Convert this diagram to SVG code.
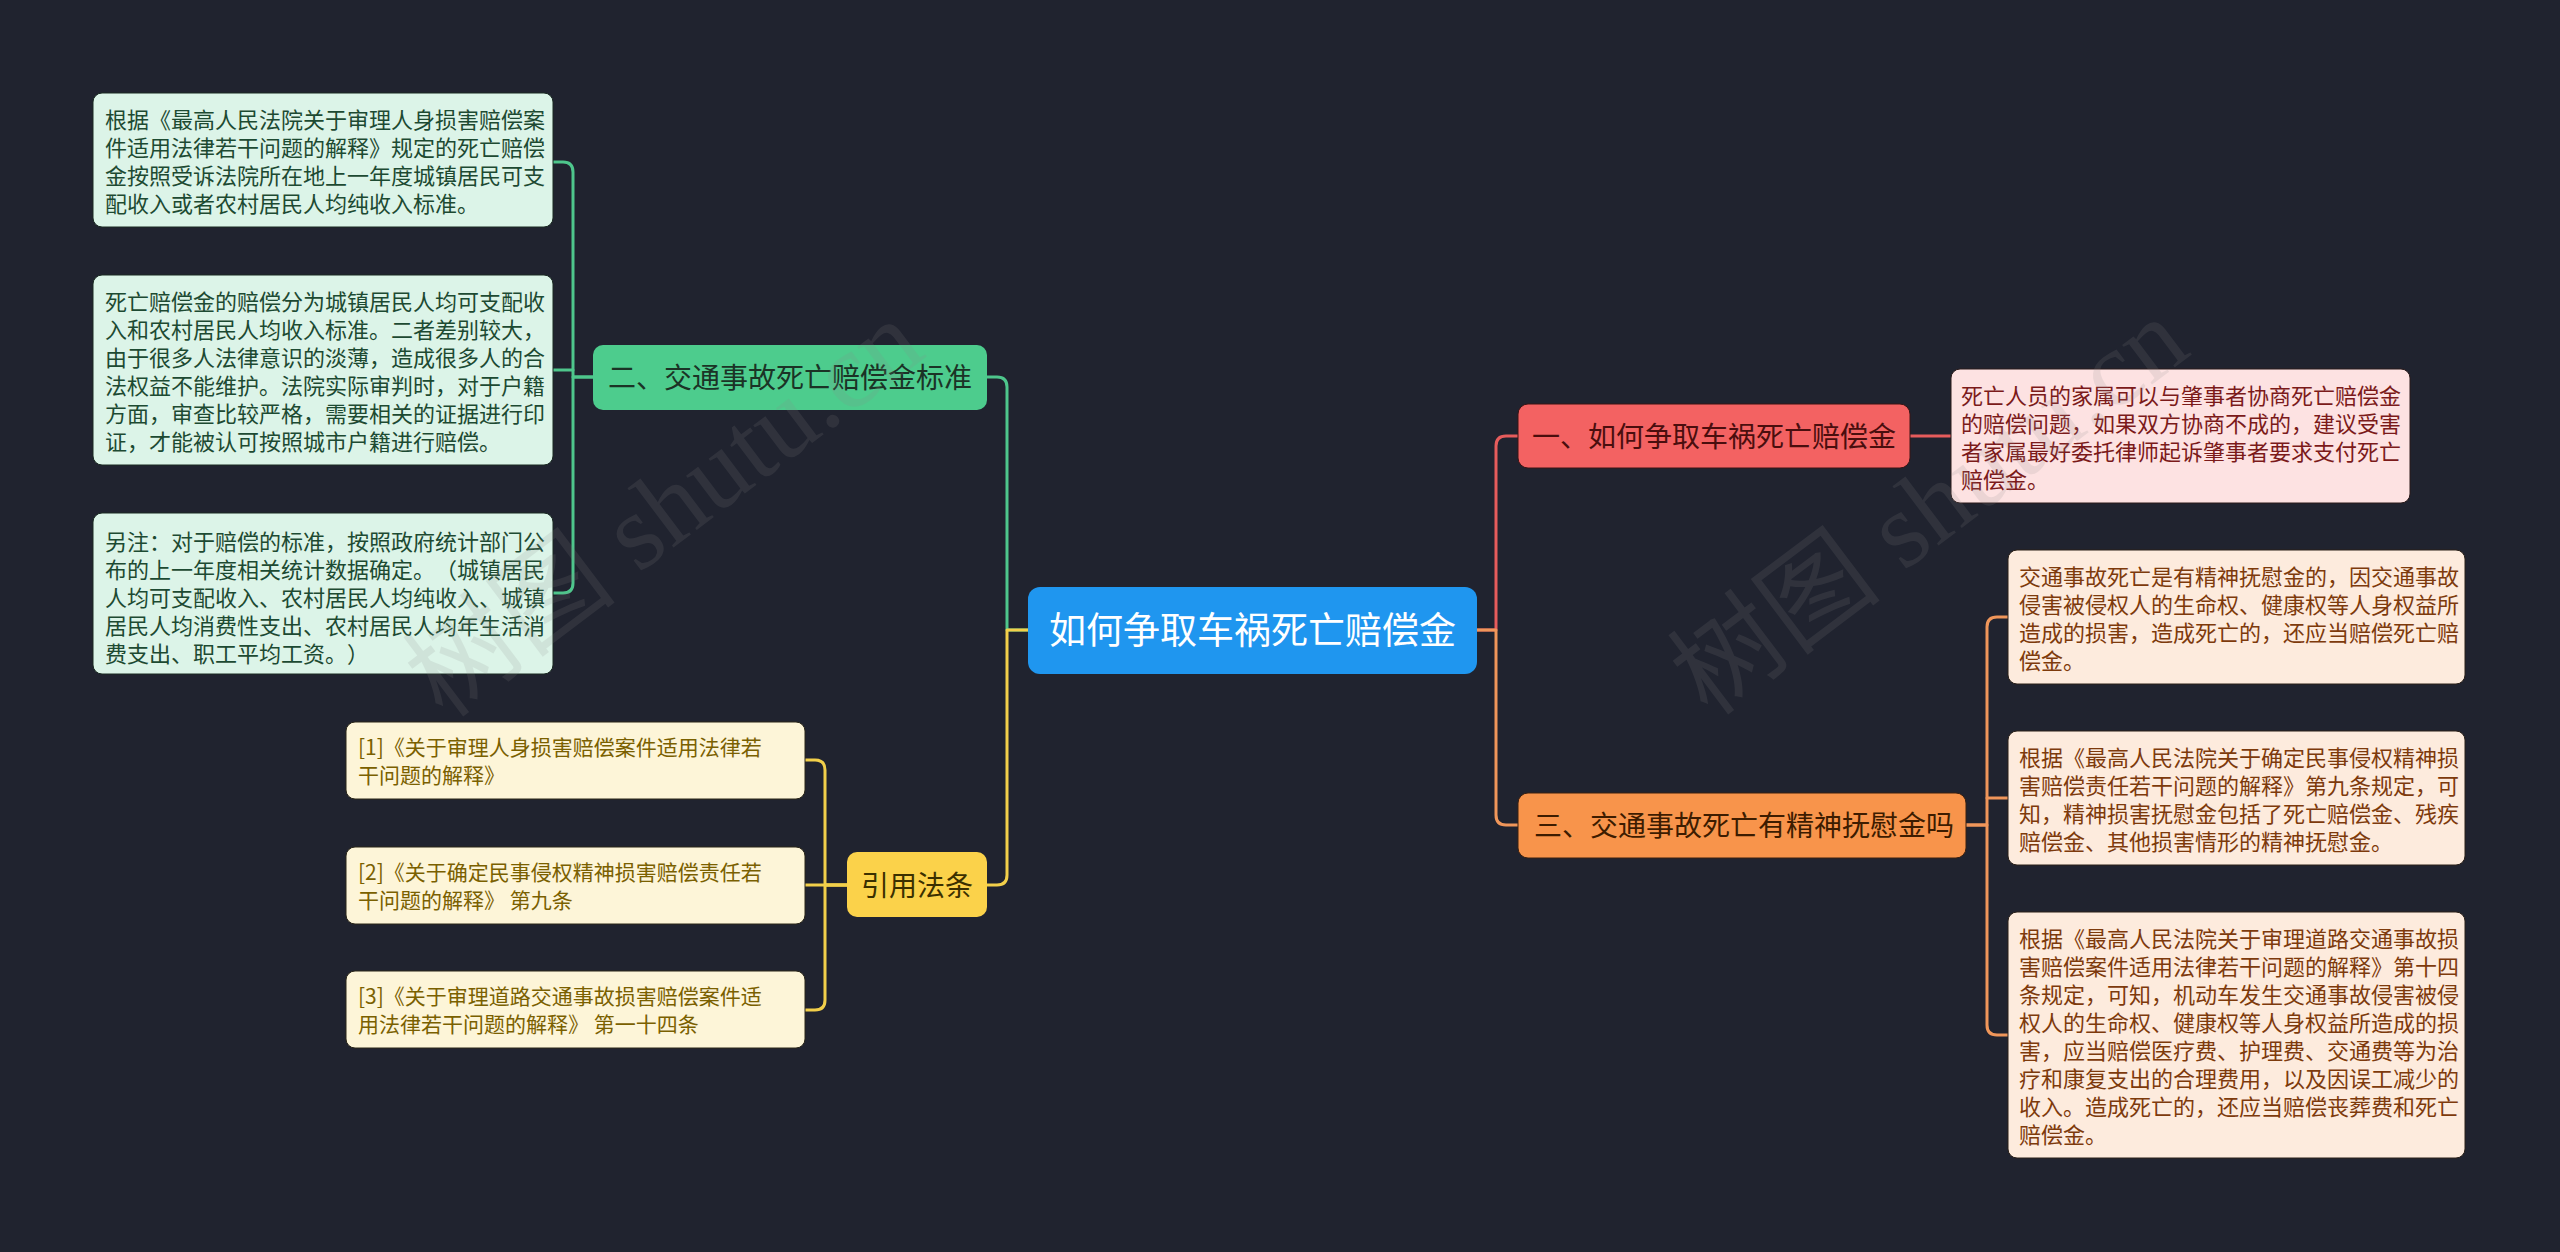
<svg xmlns="http://www.w3.org/2000/svg" width="2560" height="1252" viewBox="0 0 2560 1252">
<style>
text{font-family:"Noto Sans CJK SC","Noto Sans",sans-serif;text-spacing-trim:space-all;}
.leaf{font-size:22px;}
.cite{font-size:21px;fill:#7a6000;}
.gl{fill:#dcf4e8;stroke:#1a2a22;stroke-width:1;}
.gt{fill:#1d4a32;}
.yl{fill:#fdf5d8;stroke:#2a2618;stroke-width:1;}
.rl{fill:#fde2e2;stroke:#2a1a1a;stroke-width:1;}
.rt{fill:#7b1a1a;}
.ol{fill:#fdebdd;stroke:#2a2018;stroke-width:1;}
.ot{fill:#7d3a0c;}
.main{font-size:28px;}
.c{fill:none;stroke-width:3;stroke-linecap:round;stroke-linejoin:round;}
.wm{font-family:"Liberation Serif","Noto Sans CJK SC",serif;font-size:108px;fill:#8a8a8a;opacity:0.15;}
</style>
<rect x="0" y="0" width="2560" height="1252" fill="#20232f"/>

<g id="connectors">
  <path class="c" stroke="#4ec68c" d="M1028,630 H1007 V387 Q1007,377 997,377 H987"/>
  <path class="c" stroke="#f2cf4a" d="M1028,630 H1007 V875 Q1007,885 997,885 H987"/>
  <path class="c" stroke="#4ec68c" d="M593,377 H573 V172 Q573,162 563,162 H553"/>
  <path class="c" stroke="#4ec68c" d="M573,370 H553"/>
  <path class="c" stroke="#4ec68c" d="M593,377 H573 V583 Q573,593 563,593 H553"/>
  <path class="c" stroke="#f2cf4a" d="M847,885 H825 V770 Q825,760 815,760 H805"/>
  <path class="c" stroke="#f2cf4a" d="M847,885 H805"/>
  <path class="c" stroke="#f2cf4a" d="M847,885 H825 V1000 Q825,1010 815,1010 H805"/>
  <path class="c" stroke="#e65c5c" d="M1477,630 H1496 V446 Q1496,436 1506,436 H1518"/>
  <path class="c" stroke="#e65c5c" d="M1910,436 H1951"/>
  <path class="c" stroke="#f0965a" d="M1477,630 H1496 V815 Q1496,825 1506,825 H1518"/>
  <path class="c" stroke="#f0965a" d="M1966,825 H1987 V627 Q1987,617 1997,617 H2008"/>
  <path class="c" stroke="#f0965a" d="M1987,798 H2008"/>
  <path class="c" stroke="#f0965a" d="M1966,825 H1987 V1025 Q1987,1035 1997,1035 H2008"/>
</g>

<g id="root">
  <rect x="1028" y="587" width="449" height="87" rx="12" fill="#1f96ef"/>
  <text x="1252.5" y="644" font-size="37" fill="#ffffff" text-anchor="middle">如何争取车祸死亡赔偿金</text>
</g>

<g id="n2">
  <rect x="593" y="345" width="394" height="65" rx="10" fill="#4dcc8d"/>
  <text class="main" x="608" y="388" fill="#1b3326">二、交通事故死亡赔偿金标准</text>
</g>
<g id="n2a">
  <rect class="gl" x="93" y="93" width="460" height="134" rx="9"/>
  <text class="leaf gt" x="105"><tspan x="105" y="128">根据《最高人民法院关于审理人身损害赔偿案</tspan><tspan x="105" y="156">件适用法律若干问题的解释》规定的死亡赔偿</tspan><tspan x="105" y="184">金按照受诉法院所在地上一年度城镇居民可支</tspan><tspan x="105" y="212">配收入或者农村居民人均纯收入标准。</tspan></text>
</g>
<g id="n2b">
  <rect class="gl" x="93" y="275" width="460" height="190" rx="9"/>
  <text class="leaf gt" x="105"><tspan x="105" y="310">死亡赔偿金的赔偿分为城镇居民人均可支配收</tspan><tspan x="105" y="338">入和农村居民人均收入标准。二者差别较大，</tspan><tspan x="105" y="366">由于很多人法律意识的淡薄，造成很多人的合</tspan><tspan x="105" y="394">法权益不能维护。法院实际审判时，对于户籍</tspan><tspan x="105" y="422">方面，审查比较严格，需要相关的证据进行印</tspan><tspan x="105" y="450">证，才能被认可按照城市户籍进行赔偿。</tspan></text>
</g>
<g id="n2c">
  <rect class="gl" x="93" y="513" width="460" height="161" rx="9"/>
  <text class="leaf gt" x="105"><tspan x="105" y="550">另注：对于赔偿的标准，按照政府统计部门公</tspan><tspan x="105" y="578">布的上一年度相关统计数据确定。（城镇居民</tspan><tspan x="105" y="606">人均可支配收入、农村居民人均纯收入、城镇</tspan><tspan x="105" y="634">居民人均消费性支出、农村居民人均年生活消</tspan><tspan x="105" y="662">费支出、职工平均工资。）</tspan></text>
</g>

<g id="n4">
  <rect x="847" y="852" width="140" height="65" rx="10" fill="#fbd24a"/>
  <text class="main" x="917" y="896" fill="#3b3000" text-anchor="middle">引用法条</text>
</g>
<g id="n4a">
  <rect class="yl" x="346" y="722" width="459" height="77" rx="9"/>
  <text class="cite" x="358"><tspan x="358" y="755">[1]《关于审理人身损害赔偿案件适用法律若</tspan><tspan x="358" y="783">干问题的解释》</tspan></text>
</g>
<g id="n4b">
  <rect class="yl" x="346" y="847" width="459" height="77" rx="9"/>
  <text class="cite" x="358"><tspan x="358" y="880">[2]《关于确定民事侵权精神损害赔偿责任若</tspan><tspan x="358" y="908">干问题的解释》 第九条</tspan></text>
</g>
<g id="n4c">
  <rect class="yl" x="346" y="971" width="459" height="77" rx="9"/>
  <text class="cite" x="358"><tspan x="358" y="1004">[3]《关于审理道路交通事故损害赔偿案件适</tspan><tspan x="358" y="1032">用法律若干问题的解释》 第一十四条</tspan></text>
</g>

<g id="n1">
  <rect x="1518" y="404" width="392" height="64" rx="10" fill="#f36262" stroke="#3a1414" stroke-width="1"/>
  <text class="main" x="1532" y="447" fill="#4a0e0e">一、如何争取车祸死亡赔偿金</text>
</g>
<g id="n1a">
  <rect class="rl" x="1951" y="369" width="459" height="134" rx="9"/>
  <text class="leaf rt" x="1961"><tspan x="1961" y="404">死亡人员的家属可以与肇事者协商死亡赔偿金</tspan><tspan x="1961" y="432">的赔偿问题，如果双方协商不成的，建议受害</tspan><tspan x="1961" y="460">者家属最好委托律师起诉肇事者要求支付死亡</tspan><tspan x="1961" y="488">赔偿金。</tspan></text>
</g>

<g id="n3">
  <rect x="1518" y="793" width="448" height="65" rx="10" fill="#f8944b" stroke="#3a2010" stroke-width="1"/>
  <text class="main" x="1534" y="836" fill="#3d1c00">三、交通事故死亡有精神抚慰金吗</text>
</g>
<g id="n3a">
  <rect class="ol" x="2008" y="550" width="457" height="134" rx="9"/>
  <text class="leaf ot" x="2019"><tspan x="2019" y="585">交通事故死亡是有精神抚慰金的，因交通事故</tspan><tspan x="2019" y="613">侵害被侵权人的生命权、健康权等人身权益所</tspan><tspan x="2019" y="641">造成的损害，造成死亡的，还应当赔偿死亡赔</tspan><tspan x="2019" y="669">偿金。</tspan></text>
</g>
<g id="n3b">
  <rect class="ol" x="2008" y="731" width="457" height="134" rx="9"/>
  <text class="leaf ot" x="2019"><tspan x="2019" y="766">根据《最高人民法院关于确定民事侵权精神损</tspan><tspan x="2019" y="794">害赔偿责任若干问题的解释》第九条规定，可</tspan><tspan x="2019" y="822">知，精神损害抚慰金包括了死亡赔偿金、残疾</tspan><tspan x="2019" y="850">赔偿金、其他损害情形的精神抚慰金。</tspan></text>
</g>
<g id="n3c">
  <rect class="ol" x="2008" y="912" width="457" height="246" rx="9"/>
  <text class="leaf ot" x="2019"><tspan x="2019" y="947">根据《最高人民法院关于审理道路交通事故损</tspan><tspan x="2019" y="975">害赔偿案件适用法律若干问题的解释》第十四</tspan><tspan x="2019" y="1003">条规定，可知，机动车发生交通事故侵害被侵</tspan><tspan x="2019" y="1031">权人的生命权、健康权等人身权益所造成的损</tspan><tspan x="2019" y="1059">害，应当赔偿医疗费、护理费、交通费等为治</tspan><tspan x="2019" y="1087">疗和康复支出的合理费用，以及因误工减少的</tspan><tspan x="2019" y="1115">收入。造成死亡的，还应当赔偿丧葬费和死亡</tspan><tspan x="2019" y="1143">赔偿金。</tspan></text>
</g>

<g id="watermark">
  <text class="wm" x="665" y="545" text-anchor="middle" transform="rotate(-37 665 510)">树图 shutu.cn</text>
  <text class="wm" x="1930" y="543" text-anchor="middle" transform="rotate(-37 1930 508)">树图 shutu.cn</text>
</g>
</svg>
